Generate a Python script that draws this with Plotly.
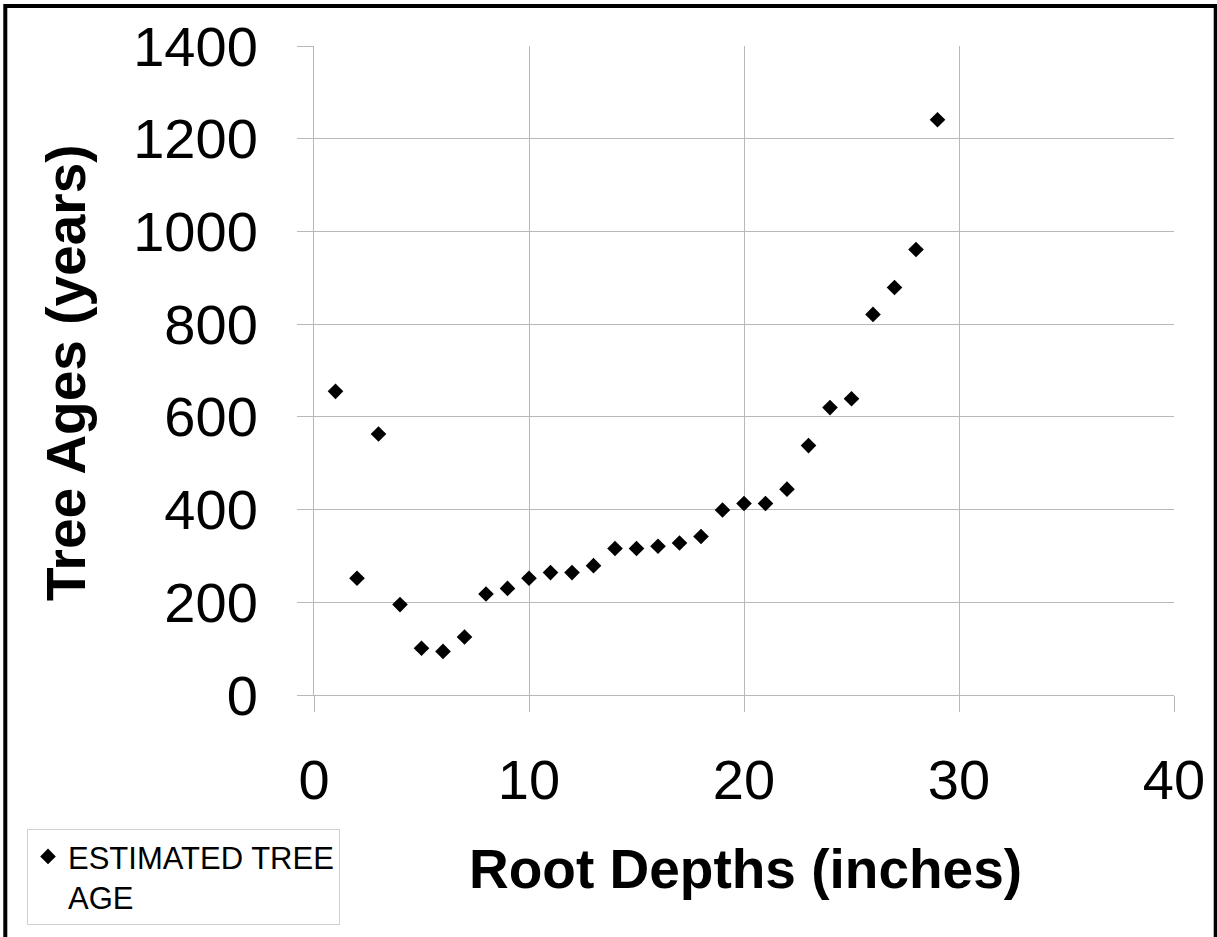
import plotly.graph_objects as go

# Root depth (inches) and the estimated age of the tree (years)
root_depth = [1, 2, 3, 4, 5, 6, 7, 8, 9, 10, 11, 12, 13, 14, 15,
              16, 17, 18, 19, 20, 21, 22, 23, 24, 25, 26, 27, 28, 29]
tree_age = [655, 252, 563, 195, 101, 94, 125, 218, 230, 252, 264, 264, 279, 316, 316,
            321, 328, 342, 399, 413, 413, 444, 538, 620, 639, 821, 879, 961, 1241]

series_name = "ESTIMATED TREE<br>AGE"
x_title = "Root Depths (inches)"
y_title = "Tree Ages (years)"
x_ticks = [0, 10, 20, 30, 40]
y_ticks = [0, 200, 400, 600, 800, 1000, 1200, 1400]

W, H = 1217, 937
L, R, T, B = 314, 43, 46, 236
PW, PH = W - L - R, H - T - B
FONT = "Liberation Sans, Arial, sans-serif"
GRID = "#b8b8b8"


def px_x(p):
    return (p - L) / PW


def px_y(p):
    return (H - B - p) / PH


fig = go.Figure()
fig.add_trace(go.Scatter(
    x=root_depth, y=tree_age, mode="markers", name=series_name,
    marker=dict(symbol="diamond", size=12, color="black"),
    showlegend=True,
))

axis_common = dict(
    showgrid=True, gridcolor=GRID, gridwidth=1,
    showline=True, linecolor=GRID, linewidth=1,
    ticks="outside", ticklen=16, tickcolor=GRID, tickwidth=1,
    zeroline=False,
    tickfont=dict(family=FONT, size=56, color="black"),
)

fig.update_xaxes(range=[0, 40], tickvals=x_ticks, ticklabelstandoff=20, **axis_common)
fig.update_yaxes(range=[0, 1400], tickvals=y_ticks, ticklabelstandoff=28, **axis_common)

fig.add_annotation(
    text=f"<b>{x_title}</b>", xref="paper", yref="paper",
    x=px_x(745), y=px_y(877), xanchor="center", yanchor="middle",
    showarrow=False, font=dict(family=FONT, size=55, color="black"),
)
fig.add_annotation(
    text=f"<b>{y_title}</b>", xref="paper", yref="paper",
    x=px_x(66), y=px_y(375), xanchor="center", yanchor="middle", textangle=-90,
    showarrow=False, font=dict(family=FONT, size=55, color="black"),
)

# outer frame around the chart
fig.add_shape(
    type="rect", xref="paper", yref="paper",
    x0=px_x(5.3), x1=px_x(1215.7), y0=px_y(960), y1=px_y(5.7),
    line=dict(color="black", width=4), fillcolor="rgba(0,0,0,0)",
)

fig.update_layout(
    width=W, height=H,
    margin=dict(l=L, r=R, t=T, b=B),
    paper_bgcolor="white", plot_bgcolor="white",
    font=dict(family=FONT, color="black"),
    legend=dict(
        x=px_x(27), y=px_y(836), xanchor="left", yanchor="top",
        bordercolor="#d0d0d0", borderwidth=1, bgcolor="white",
        font=dict(family=FONT, size=31, color="black"),
        valign="top", itemsizing="trace", itemwidth=30,
    ),
)

fig.write_html("out.html")
